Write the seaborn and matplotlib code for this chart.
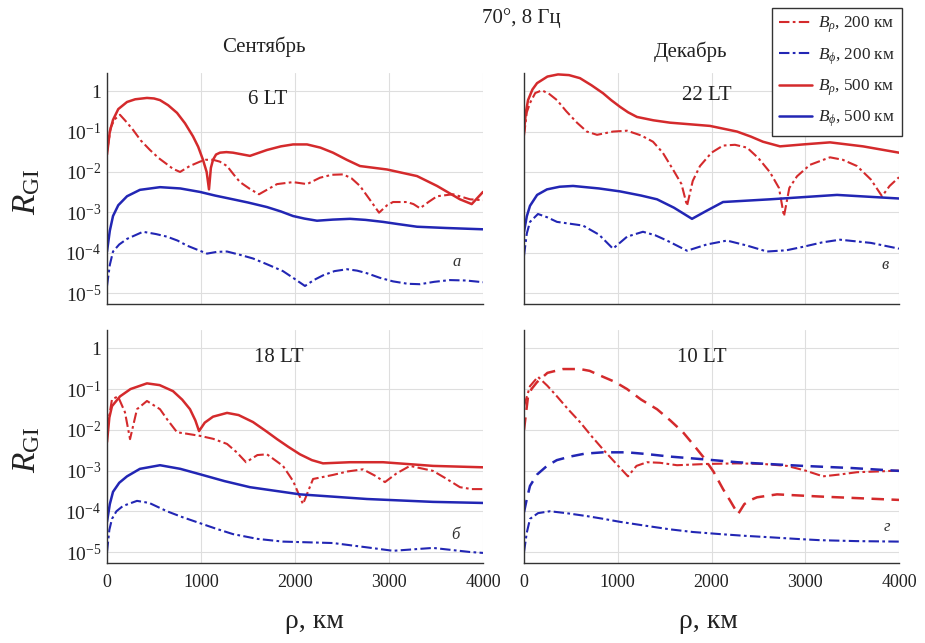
import numpy as np
import pandas as pd
import matplotlib
matplotlib.use("Agg")
import matplotlib.pyplot as plt
from matplotlib.lines import Line2D
import seaborn as sns

# ---------------- data ----------------
# Panel a: September, 6 LT
a_rho500_x = [0, 30, 64, 120, 213, 300, 425, 500, 564, 650, 745, 830, 915, 970, 1021, 1060, 1085, 1105, 1128, 1160, 1202, 1270, 1340, 1521, 1702, 1850, 1979, 2128, 2270, 2404, 2550, 2691, 2979, 3298, 3511, 3755, 3880, 4000]
a_rho500_y = [2.7e-2, 0.1, 0.195, 0.36, 0.54, 0.63, 0.68, 0.66, 0.60, 0.45, 0.29, 0.16, 7.6e-2, 4.2e-2, 2.0e-2, 1.0e-2, 3.7e-3, 1.26e-2, 2.0e-2, 2.7e-2, 3.0e-2, 3.1e-2, 3.0e-2, 2.5e-2, 3.5e-2, 4.3e-2, 4.8e-2, 4.8e-2, 4.0e-2, 3.0e-2, 2.0e-2, 1.4e-2, 1.15e-2, 7.9e-3, 4.5e-3, 2.1e-3, 1.6e-3, 3.2e-3]
a_rho200_x = [0, 40, 80, 138, 200, 277, 360, 457, 550, 638, 700, 777, 880, 989, 1050, 1128, 1200, 1277, 1350, 1415, 1520, 1617, 1700, 1809, 1979, 2128, 2266, 2390, 2511, 2600, 2691, 2800, 2894, 2980, 3043, 3191, 3260, 3330, 3420, 3511, 3681, 3862, 4000]
a_rho200_y = [3.2e-2, 0.126, 0.2, 0.26, 0.18, 0.11, 6.0e-2, 3.5e-2, 2.2e-2, 1.55e-2, 1.2e-2, 1.0e-2, 1.4e-2, 1.8e-2, 2.0e-2, 2.0e-2, 1.8e-2, 1.4e-2, 8.5e-3, 5.6e-3, 3.8e-3, 2.8e-3, 3.6e-3, 5.0e-3, 5.6e-3, 5.0e-3, 7.2e-3, 8.5e-3, 8.7e-3, 7.0e-3, 4.5e-3, 2.0e-3, 9.8e-4, 1.5e-3, 1.8e-3, 1.8e-3, 1.6e-3, 1.26e-3, 1.8e-3, 2.5e-3, 2.8e-3, 2.1e-3, 2.0e-3]
a_phi500_x = [0, 30, 64, 120, 213, 350, 564, 780, 989, 1150, 1340, 1500, 1702, 1850, 1979, 2100, 2234, 2400, 2585, 2750, 2936, 3100, 3298, 3600, 3862, 4000]
a_phi500_y = [1.07e-4, 3.5e-4, 8.1e-4, 1.5e-3, 2.5e-3, 3.6e-3, 4.2e-3, 3.9e-3, 3.2e-3, 2.6e-3, 2.1e-3, 1.75e-3, 1.35e-3, 1.05e-3, 8.1e-4, 7.0e-4, 6.2e-4, 6.6e-4, 6.9e-4, 6.5e-4, 5.8e-4, 5.1e-4, 4.4e-4, 4.1e-4, 3.9e-4, 3.8e-4]
a_phi200_x = [0, 30, 64, 130, 213, 383, 520, 638, 750, 851, 1064, 1170, 1277, 1420, 1553, 1700, 1872, 1990, 2106, 2200, 2298, 2420, 2553, 2660, 2766, 2900, 3043, 3200, 3330, 3480, 3649, 3820, 4000]
a_phi200_y = [1.5e-5, 5.0e-5, 1.07e-4, 1.6e-4, 2.2e-4, 3.3e-4, 2.9e-4, 2.5e-4, 2.0e-4, 1.5e-4, 9.5e-5, 1.05e-4, 1.07e-4, 8.8e-5, 7.2e-5, 5.2e-5, 3.5e-5, 2.3e-5, 1.5e-5, 2.1e-5, 2.75e-5, 3.5e-5, 3.9e-5, 3.6e-5, 3.1e-5, 2.4e-5, 1.95e-5, 1.7e-5, 1.66e-5, 1.9e-5, 2.1e-5, 2.05e-5, 1.86e-5]

# Panel в: December, 22 LT
b_rho500_x = [0, 20, 43, 90, 139, 250, 363, 480, 597, 720, 843, 930, 1024, 1110, 1205, 1380, 1557, 1984, 2272, 2420, 2549, 2731, 2976, 3264, 3616, 4000]
b_rho500_y = [0.1, 0.3, 0.6, 1.1, 1.58, 2.3, 2.6, 2.5, 2.1, 1.4, 0.89, 0.6, 0.41, 0.3, 0.23, 0.19, 0.166, 0.138, 0.1, 7.5e-2, 5.6e-2, 4.3e-2, 4.8e-2, 5.4e-2, 4.3e-2, 3.0e-2]
b_rho200_x = [0, 30, 64, 120, 192, 270, 352, 450, 565, 670, 779, 950, 1099, 1250, 1376, 1480, 1589, 1680, 1739, 1800, 1877, 2000, 2123, 2250, 2379, 2500, 2624, 2720, 2773, 2830, 2912, 3050, 3264, 3400, 3552, 3700, 3819, 3900, 4000]
b_rho200_y = [7.9e-2, 0.3, 0.51, 0.9, 1.05, 0.85, 0.6, 0.32, 0.166, 0.1, 8.3e-2, 0.1, 0.105, 8.0e-2, 5.6e-2, 3.0e-2, 1.15e-2, 5.0e-3, 1.45e-3, 6.0e-3, 1.4e-2, 3.0e-2, 4.5e-2, 4.7e-2, 4.0e-2, 2.2e-2, 9.8e-3, 4.0e-3, 8.0e-4, 4.0e-3, 7.8e-3, 1.5e-2, 2.3e-2, 2.0e-2, 1.4e-2, 6.5e-3, 2.5e-3, 4.5e-3, 7.4e-3]
b_phi500_x = [0, 30, 64, 140, 245, 380, 523, 800, 1024, 1250, 1419, 1600, 1792, 1950, 2123, 2624, 3339, 4000]
b_phi500_y = [3.3e-4, 8.0e-4, 1.45e-3, 2.7e-3, 3.7e-3, 4.3e-3, 4.5e-3, 3.9e-3, 3.3e-3, 2.6e-3, 2.1e-3, 1.3e-3, 6.9e-4, 1.1e-3, 1.8e-3, 2.1e-3, 2.7e-3, 2.2e-3]
b_phi200_x = [0, 30, 64, 149, 250, 352, 629, 800, 949, 1100, 1269, 1400, 1525, 1739, 1950, 2165, 2380, 2592, 2800, 2976, 3180, 3371, 3700, 4000]
b_phi200_y = [8.5e-5, 3.0e-4, 5.8e-4, 9.1e-4, 7.5e-4, 5.8e-4, 4.7e-4, 2.8e-4, 1.26e-4, 2.5e-4, 3.3e-4, 2.7e-4, 2.0e-4, 1.12e-4, 1.6e-4, 2.0e-4, 1.5e-4, 1.07e-4, 1.15e-4, 1.4e-4, 1.8e-4, 2.1e-4, 1.75e-4, 1.26e-4]

# Panel б: September, 18 LT
c_rho500_x = [0, 25, 53, 138, 250, 425, 560, 702, 800, 883, 940, 979, 1040, 1128, 1277, 1400, 1553, 1700, 1809, 1930, 2053, 2180, 2298, 2585, 2936, 3468, 4000]
c_rho500_y = [5.0e-3, 2.0e-2, 3.8e-2, 6.6e-2, 0.1, 0.138, 0.125, 8.9e-2, 5.5e-2, 3.2e-2, 1.7e-2, 9.3e-3, 1.5e-2, 2.1e-2, 2.6e-2, 2.3e-2, 1.55e-2, 9.0e-3, 5.9e-3, 3.8e-3, 2.5e-3, 1.8e-3, 1.5e-3, 1.6e-3, 1.6e-3, 1.3e-3, 1.2e-3]
c_rho200_x = [0, 53, 117, 191, 245, 319, 425, 564, 640, 745, 850, 989, 1130, 1277, 1380, 1479, 1600, 1702, 1872, 1980, 2085, 2192, 2404, 2560, 2723, 2850, 2957, 3080, 3223, 3468, 3600, 3755, 3880, 4000]
c_rho200_y = [1.0e-2, 5.6e-2, 6.6e-2, 2.7e-2, 5.9e-3, 3.2e-2, 5.1e-2, 3.2e-2, 1.8e-2, 8.7e-3, 8.0e-3, 7.1e-3, 6.0e-3, 4.5e-3, 2.8e-3, 1.6e-3, 2.4e-3, 2.5e-3, 1.3e-3, 5.5e-4, 1.5e-4, 6.2e-4, 7.8e-4, 9.5e-4, 1.07e-3, 7.5e-4, 5.2e-4, 8.5e-4, 1.3e-3, 9.8e-4, 6.5e-4, 3.9e-4, 3.5e-4, 3.5e-4]
c_phi500_x = [0, 30, 64, 130, 213, 350, 564, 780, 989, 1250, 1521, 2053, 2766, 3468, 4000]
c_phi500_y = [5.5e-5, 1.5e-4, 3.0e-4, 5.0e-4, 7.2e-4, 1.1e-3, 1.35e-3, 1.1e-3, 8.1e-4, 5.5e-4, 3.9e-4, 2.6e-4, 2.0e-4, 1.7e-4, 1.6e-4]
c_phi200_x = [0, 25, 53, 100, 170, 319, 450, 638, 800, 989, 1150, 1340, 1600, 1872, 2404, 2766, 3043, 3468, 3862, 4000]
c_phi200_y = [1.0e-5, 3.5e-5, 6.5e-5, 1.0e-4, 1.35e-4, 1.8e-4, 1.6e-4, 1.0e-4, 7.2e-5, 5.1e-5, 3.8e-5, 2.75e-5, 2.1e-5, 1.8e-5, 1.66e-5, 1.3e-5, 1.07e-5, 1.26e-5, 1.0e-5, 9.5e-6]

# Panel г: December, 10 LT
d_rho500_x = [0, 43, 80, 139, 250, 416, 597, 700, 843, 970, 1099, 1250, 1419, 1560, 1696, 1800, 1909, 2020, 2123, 2200, 2283, 2350, 2420, 2485, 2699, 3157, 4000]
d_rho500_y = [1.0e-2, 6.6e-2, 0.1, 0.148, 0.25, 0.31, 0.31, 0.28, 0.2, 0.15, 0.1, 5.5e-2, 3.2e-2, 1.7e-2, 8.7e-3, 4.5e-3, 2.2e-3, 9.5e-4, 3.5e-4, 1.8e-4, 8.5e-5, 1.5e-4, 1.9e-4, 2.2e-4, 2.6e-4, 2.3e-4, 1.9e-4]
d_rho200_x = [0, 64, 149, 250, 352, 470, 597, 720, 843, 980, 1109, 1200, 1312, 1450, 1632, 1950, 2272, 2550, 2805, 3000, 3189, 3370, 3552, 3780, 4000]
d_rho200_y = [3.8e-2, 0.118, 0.2, 0.12, 6.6e-2, 3.2e-2, 1.55e-2, 7.0e-3, 3.3e-3, 1.5e-3, 7.2e-4, 1.3e-3, 1.6e-3, 1.55e-3, 1.35e-3, 1.45e-3, 1.5e-3, 1.45e-3, 1.3e-3, 1.0e-3, 7.2e-4, 8.0e-4, 9.1e-4, 9.5e-4, 1.0e-3]
d_phi500_x = [0, 30, 64, 140, 245, 350, 491, 650, 843, 1099, 1300, 1557, 1900, 2272, 2600, 2976, 3500, 4000]
d_phi500_y = [9.5e-5, 2.0e-4, 4.2e-4, 8.0e-4, 1.3e-3, 1.8e-3, 2.2e-3, 2.6e-3, 2.8e-3, 2.8e-3, 2.55e-3, 2.2e-3, 1.9e-3, 1.6e-3, 1.45e-3, 1.3e-3, 1.15e-3, 9.8e-4]
d_phi200_x = [0, 30, 64, 150, 277, 450, 672, 850, 1024, 1300, 1557, 1800, 2091, 2350, 2624, 2900, 3157, 3550, 4000]
d_phi200_y = [1.0e-5, 3.0e-5, 6.5e-5, 9.0e-5, 1.0e-4, 9.0e-5, 7.6e-5, 6.5e-5, 5.5e-5, 4.4e-5, 3.6e-5, 3.1e-5, 2.75e-5, 2.5e-5, 2.3e-5, 2.1e-5, 1.95e-5, 1.85e-5, 1.8e-5]

panel_times = ["6 LT", "22 LT", "18 LT", "10 LT"]
panel_letters = ["а", "в", "б", "г"]
column_titles = ["Сентябрь", "Декабрь"]
legend_labels = [r"$B_{\rho}$, 200 км", r"$B_{\phi}$, 200 км", r"$B_{\rho}$, 500 км", r"$B_{\phi}$, 500 км"]
x_ticks = [0, 1000, 2000, 3000, 4000]
y_ticks = [1, 1e-1, 1e-2, 1e-3, 1e-4, 1e-5]
y_ticklabels = ["1", "$10^{-1}$", "$10^{-2}$", "$10^{-3}$", "$10^{-4}$", "$10^{-5}$"]

# ---------------- style ----------------
sns.set_style("white")
plt.rcParams["font.family"] = ["Liberation Serif", "DejaVu Serif"]
plt.rcParams["mathtext.fontset"] = "custom"
plt.rcParams["mathtext.rm"] = "Liberation Serif"
plt.rcParams["mathtext.it"] = "Liberation Serif:italic"
plt.rcParams["mathtext.bf"] = "Liberation Serif:bold"

RED = "#d42a2c"
BLUE = "#2226b4"
DASHDOT = (0, (5, 1.6, 1.3, 1.6))
DASHED = (0, (5, 3))

fig = plt.figure(figsize=(9.25, 6.43), dpi=100)
W, H = 925, 643

def ax_at(x0, y0, x1, y1):
    return fig.add_axes([x0 / W, 1 - y1 / H, (x1 - x0) / W, (y1 - y0) / H])

ax_a = ax_at(107, 73, 483, 304)
ax_b = ax_at(524, 73, 899, 304)
ax_c = ax_at(107, 330, 483, 563)
ax_d = ax_at(524, 330, 899, 563)

panels = [
    (ax_a, [(a_rho200_x, a_rho200_y, RED, DASHDOT, 1.5), (a_phi200_x, a_phi200_y, BLUE, DASHDOT, 1.5),
            (a_rho500_x, a_rho500_y, RED, "-", 1.8), (a_phi500_x, a_phi500_y, BLUE, "-", 1.8)]),
    (ax_b, [(b_rho200_x, b_rho200_y, RED, DASHDOT, 1.5), (b_phi200_x, b_phi200_y, BLUE, DASHDOT, 1.5),
            (b_rho500_x, b_rho500_y, RED, "-", 1.8), (b_phi500_x, b_phi500_y, BLUE, "-", 1.8)]),
    (ax_c, [(c_rho200_x, c_rho200_y, RED, DASHDOT, 1.5), (c_phi200_x, c_phi200_y, BLUE, DASHDOT, 1.5),
            (c_rho500_x, c_rho500_y, RED, "-", 1.8), (c_phi500_x, c_phi500_y, BLUE, "-", 1.8)]),
    (ax_d, [(d_rho200_x, d_rho200_y, RED, DASHDOT, 1.5), (d_phi200_x, d_phi200_y, BLUE, DASHDOT, 1.5),
            (d_rho500_x, d_rho500_y, RED, DASHED, 1.8), (d_phi500_x, d_phi500_y, BLUE, DASHED, 1.8)]),
]

for i, (ax, series) in enumerate(panels):
    for xs, ys, col, ls, lw in series:
        df = pd.DataFrame({"rho": xs, "R": ys})
        sns.lineplot(data=df, x="rho", y="R", ax=ax, color=col, linestyle=ls,
                     linewidth=lw, estimator=None, sort=False)
    ax.set_yscale("log")
    ax.set_xlim(0, 4000)
    ax.set_ylim(10 ** -5.27, 10 ** 0.45)
    ax.set_xticks(x_ticks)
    ax.set_yticks(y_ticks)
    ax.minorticks_off()
    ax.set_xlabel("")
    ax.set_ylabel("")
    ax.grid(True, color="#dedede", linewidth=0.8)
    for s in ["top", "right"]:
        ax.spines[s].set_visible(False)
    for s in ["left", "bottom"]:
        ax.spines[s].set_color("#333333")
        ax.spines[s].set_linewidth(1.0)
    ax.tick_params(direction="in", length=4, width=0.8, color="#333333", labelcolor="#222222")
    if i in (0, 2):
        ax.set_yticklabels(y_ticklabels, fontsize=14)
    else:
        ax.set_yticklabels([])
    if i in (2, 3):
        ax.set_xticklabels([str(t) for t in x_ticks], fontsize=13)
    else:
        ax.set_xticklabels([])
    ax.tick_params(axis="x", pad=8)
    ax.tick_params(axis="y", pad=4)

# panel texts
label_pos = [(268, 100), (707, 95), (279, 357), (702, 357)]
letter_pos = [(457, 262), (885, 265), (455, 535), (887, 527)]
for (tx, ty), t in zip(label_pos, panel_times):
    fig.text(tx / W, 1 - ty / H, t, fontsize=15, ha="center", va="center", color="#222222")
for (tx, ty), t in zip(letter_pos, panel_letters):
    fig.text(tx / W, 1 - ty / H, t, fontsize=12, style="italic", ha="center", va="center", color="#333333")

fig.text(521 / W, 1 - 18 / H, "70°, 8 Гц", fontsize=15, ha="center", va="center", color="#222222")
fig.text(264 / W, 1 - 47 / H, column_titles[0], fontsize=15, ha="center", va="center", color="#222222")
fig.text(690 / W, 1 - 52 / H, column_titles[1], fontsize=15, ha="center", va="center", color="#222222")

for yy in (192, 450):
    fig.text(27 / W, 1 - yy / H, r"$R_{\mathrm{GI}}$", fontsize=24, rotation=90,
             ha="center", va="center", color="#222222")
for xx in (314, 708):
    fig.text(xx / W, 1 - 622 / H, "ρ, км", fontsize=20, ha="center", va="center", color="#222222")

handles = [Line2D([], [], color=RED, linestyle=DASHDOT, linewidth=1.5),
           Line2D([], [], color=BLUE, linestyle=DASHDOT, linewidth=1.5),
           Line2D([], [], color=RED, linestyle="-", linewidth=1.8),
           Line2D([], [], color=BLUE, linestyle="-", linewidth=1.8)]
leg = fig.legend(handles, legend_labels, loc="upper left", bbox_to_anchor=(772 / W, 1 - 8 / H),
                 fontsize=12.4, frameon=True, fancybox=False, edgecolor="#333333",
                 handlelength=1.9, handletextpad=0.4, labelspacing=0.62, borderpad=0.4,
                 borderaxespad=0.0, framealpha=1)
leg.get_frame().set_linewidth(1.0)

fig.savefig("out.png", dpi=100, facecolor="white")
